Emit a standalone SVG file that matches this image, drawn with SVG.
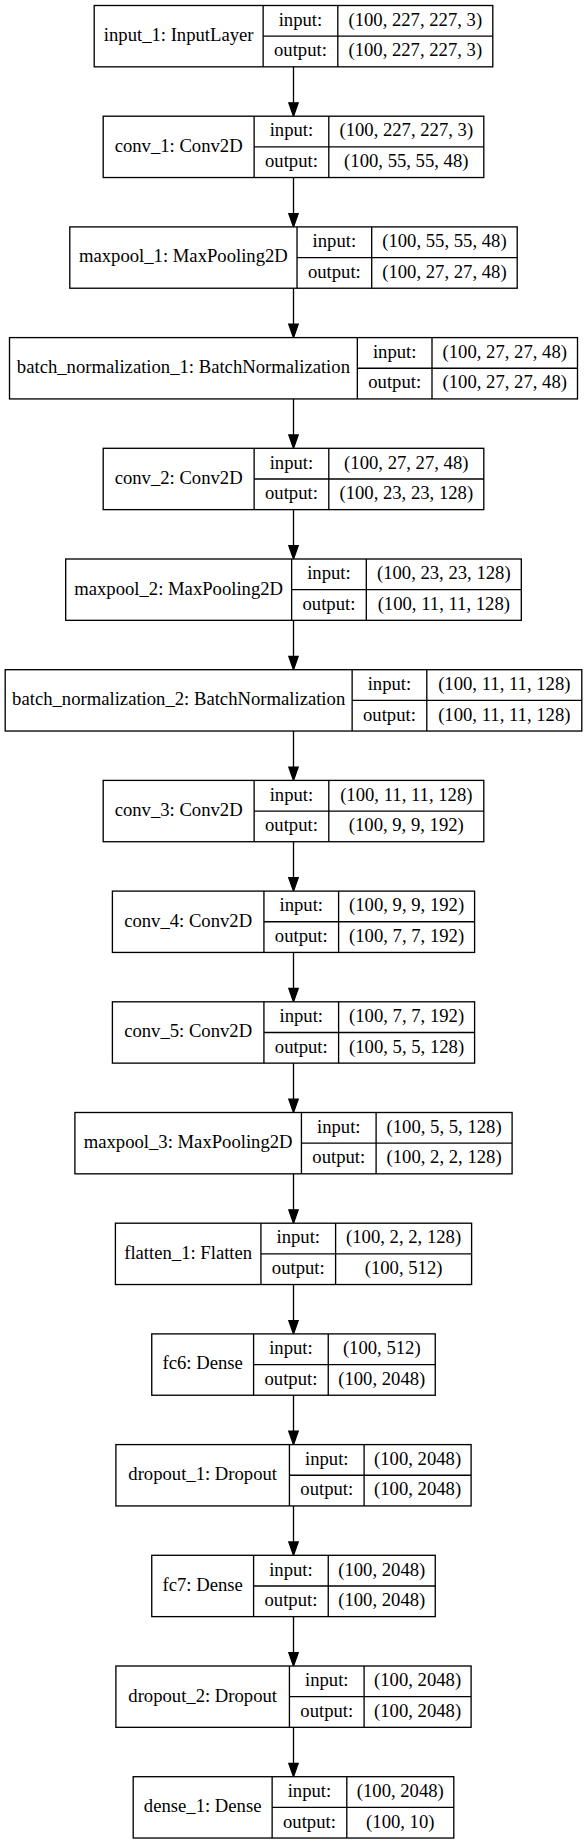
<svg xmlns="http://www.w3.org/2000/svg" width="587" height="1844" viewBox="0 0 587 1844">
<style>
.box{fill:#fff;stroke:#000;stroke-width:1.33}
.sep{stroke:#000;stroke-width:1.33}
.edge{stroke:#000;stroke-width:1.33;fill:none}
text{font-family:"Liberation Serif","Times New Roman",serif;font-size:18.67px;text-anchor:middle;fill:#000}
</style>
<defs>
<marker id="arr" markerUnits="userSpaceOnUse" markerWidth="15" markerHeight="11" viewBox="-1 -1 15 11" refX="0" refY="4.67" orient="auto">
<path d="M0,0 L13.33,4.67 L0,9.33 Z" fill="#000" stroke="#000" stroke-width="1.33"/>
</marker>
</defs>
<rect x="0" y="0" width="587" height="1844" fill="#fff"/>
<g id="connectors">
<line class="edge" x1="293.5" y1="66.83" x2="293.5" y2="102.87" marker-end="url(#arr)"/>
<line class="edge" x1="293.5" y1="177.53" x2="293.5" y2="213.57" marker-end="url(#arr)"/>
<line class="edge" x1="293.5" y1="288.23" x2="293.5" y2="324.27" marker-end="url(#arr)"/>
<line class="edge" x1="293.5" y1="398.93" x2="293.5" y2="434.97" marker-end="url(#arr)"/>
<line class="edge" x1="293.5" y1="509.63" x2="293.5" y2="545.67" marker-end="url(#arr)"/>
<line class="edge" x1="293.5" y1="620.33" x2="293.5" y2="656.37" marker-end="url(#arr)"/>
<line class="edge" x1="293.5" y1="731.03" x2="293.5" y2="767.07" marker-end="url(#arr)"/>
<line class="edge" x1="293.5" y1="841.73" x2="293.5" y2="877.77" marker-end="url(#arr)"/>
<line class="edge" x1="293.5" y1="952.43" x2="293.5" y2="988.47" marker-end="url(#arr)"/>
<line class="edge" x1="293.5" y1="1063.13" x2="293.5" y2="1099.17" marker-end="url(#arr)"/>
<line class="edge" x1="293.5" y1="1173.83" x2="293.5" y2="1209.87" marker-end="url(#arr)"/>
<line class="edge" x1="293.5" y1="1284.53" x2="293.5" y2="1320.57" marker-end="url(#arr)"/>
<line class="edge" x1="293.5" y1="1395.23" x2="293.5" y2="1431.27" marker-end="url(#arr)"/>
<line class="edge" x1="293.5" y1="1505.93" x2="293.5" y2="1541.97" marker-end="url(#arr)"/>
<line class="edge" x1="293.5" y1="1616.63" x2="293.5" y2="1652.67" marker-end="url(#arr)"/>
<line class="edge" x1="293.5" y1="1727.33" x2="293.5" y2="1763.37" marker-end="url(#arr)"/>
</g>

<g id="input_1" transform="translate(0,5.5)">
<rect class="box" x="94.2" y="0" width="398.6" height="61.33"/>
<line class="sep" x1="263.13" y1="0" x2="263.13" y2="61.33"/>
<line class="sep" x1="337.8" y1="0" x2="337.8" y2="61.33"/>
<line class="sep" x1="263.13" y1="30.67" x2="492.8" y2="30.67"/>
<text x="178.67" y="35.6">input_1: InputLayer</text>
<text x="300.47" y="20.3">input:</text>
<text x="300.47" y="50.9">output:</text>
<text x="415.3" y="20.3">(100, 227, 227, 3)</text>
<text x="415.3" y="50.9">(100, 227, 227, 3)</text>
</g>

<g id="conv_1" transform="translate(0,116.2)">
<rect class="box" x="103.2" y="0" width="380.6" height="61.33"/>
<line class="sep" x1="254.13" y1="0" x2="254.13" y2="61.33"/>
<line class="sep" x1="328.8" y1="0" x2="328.8" y2="61.33"/>
<line class="sep" x1="254.13" y1="30.67" x2="483.8" y2="30.67"/>
<text x="178.67" y="35.6">conv_1: Conv2D</text>
<text x="291.47" y="20.3">input:</text>
<text x="291.47" y="50.9">output:</text>
<text x="406.3" y="20.3">(100, 227, 227, 3)</text>
<text x="406.3" y="50.9">(100, 55, 55, 48)</text>
</g>

<g id="maxpool_1" transform="translate(0,226.9)">
<rect class="box" x="69.8" y="0" width="447.4" height="61.33"/>
<line class="sep" x1="297.03" y1="0" x2="297.03" y2="61.33"/>
<line class="sep" x1="371.7" y1="0" x2="371.7" y2="61.33"/>
<line class="sep" x1="297.03" y1="30.67" x2="517.2" y2="30.67"/>
<text x="183.42" y="35.6">maxpool_1: MaxPooling2D</text>
<text x="334.37" y="20.3">input:</text>
<text x="334.37" y="50.9">output:</text>
<text x="444.45" y="20.3">(100, 55, 55, 48)</text>
<text x="444.45" y="50.9">(100, 27, 27, 48)</text>
</g>

<g id="batch_normalization_1" transform="translate(0,337.6)">
<rect class="box" x="9.5" y="0" width="568" height="61.33"/>
<line class="sep" x1="357.33" y1="0" x2="357.33" y2="61.33"/>
<line class="sep" x1="432" y1="0" x2="432" y2="61.33"/>
<line class="sep" x1="357.33" y1="30.67" x2="577.5" y2="30.67"/>
<text x="183.42" y="35.6">batch_normalization_1: BatchNormalization</text>
<text x="394.67" y="20.3">input:</text>
<text x="394.67" y="50.9">output:</text>
<text x="504.75" y="20.3">(100, 27, 27, 48)</text>
<text x="504.75" y="50.9">(100, 27, 27, 48)</text>
</g>

<g id="conv_2" transform="translate(0,448.3)">
<rect class="box" x="103.2" y="0" width="380.6" height="61.33"/>
<line class="sep" x1="254.13" y1="0" x2="254.13" y2="61.33"/>
<line class="sep" x1="328.8" y1="0" x2="328.8" y2="61.33"/>
<line class="sep" x1="254.13" y1="30.67" x2="483.8" y2="30.67"/>
<text x="178.67" y="35.6">conv_2: Conv2D</text>
<text x="291.47" y="20.3">input:</text>
<text x="291.47" y="50.9">output:</text>
<text x="406.3" y="20.3">(100, 27, 27, 48)</text>
<text x="406.3" y="50.9">(100, 23, 23, 128)</text>
</g>

<g id="maxpool_2" transform="translate(0,559)">
<rect class="box" x="65.7" y="0" width="455.6" height="61.33"/>
<line class="sep" x1="291.63" y1="0" x2="291.63" y2="61.33"/>
<line class="sep" x1="366.3" y1="0" x2="366.3" y2="61.33"/>
<line class="sep" x1="291.63" y1="30.67" x2="521.3" y2="30.67"/>
<text x="178.67" y="35.6">maxpool_2: MaxPooling2D</text>
<text x="328.97" y="20.3">input:</text>
<text x="328.97" y="50.9">output:</text>
<text x="443.8" y="20.3">(100, 23, 23, 128)</text>
<text x="443.8" y="50.9">(100, 11, 11, 128)</text>
</g>

<g id="batch_normalization_2" transform="translate(0,669.7)">
<rect class="box" x="5.2" y="0" width="576.6" height="61.33"/>
<line class="sep" x1="352.13" y1="0" x2="352.13" y2="61.33"/>
<line class="sep" x1="426.8" y1="0" x2="426.8" y2="61.33"/>
<line class="sep" x1="352.13" y1="30.67" x2="581.8" y2="30.67"/>
<text x="178.67" y="35.6">batch_normalization_2: BatchNormalization</text>
<text x="389.47" y="20.3">input:</text>
<text x="389.47" y="50.9">output:</text>
<text x="504.3" y="20.3">(100, 11, 11, 128)</text>
<text x="504.3" y="50.9">(100, 11, 11, 128)</text>
</g>

<g id="conv_3" transform="translate(0,780.4)">
<rect class="box" x="103.2" y="0" width="380.6" height="61.33"/>
<line class="sep" x1="254.13" y1="0" x2="254.13" y2="61.33"/>
<line class="sep" x1="328.8" y1="0" x2="328.8" y2="61.33"/>
<line class="sep" x1="254.13" y1="30.67" x2="483.8" y2="30.67"/>
<text x="178.67" y="35.6">conv_3: Conv2D</text>
<text x="291.47" y="20.3">input:</text>
<text x="291.47" y="50.9">output:</text>
<text x="406.3" y="20.3">(100, 11, 11, 128)</text>
<text x="406.3" y="50.9">(100, 9, 9, 192)</text>
</g>

<g id="conv_4" transform="translate(0,891.1)">
<rect class="box" x="112.4" y="0" width="362.2" height="61.33"/>
<line class="sep" x1="263.93" y1="0" x2="263.93" y2="61.33"/>
<line class="sep" x1="338.6" y1="0" x2="338.6" y2="61.33"/>
<line class="sep" x1="263.93" y1="30.67" x2="474.6" y2="30.67"/>
<text x="188.17" y="35.6">conv_4: Conv2D</text>
<text x="301.27" y="20.3">input:</text>
<text x="301.27" y="50.9">output:</text>
<text x="406.6" y="20.3">(100, 9, 9, 192)</text>
<text x="406.6" y="50.9">(100, 7, 7, 192)</text>
</g>

<g id="conv_5" transform="translate(0,1001.8)">
<rect class="box" x="112.4" y="0" width="362.2" height="61.33"/>
<line class="sep" x1="263.93" y1="0" x2="263.93" y2="61.33"/>
<line class="sep" x1="338.6" y1="0" x2="338.6" y2="61.33"/>
<line class="sep" x1="263.93" y1="30.67" x2="474.6" y2="30.67"/>
<text x="188.17" y="35.6">conv_5: Conv2D</text>
<text x="301.27" y="20.3">input:</text>
<text x="301.27" y="50.9">output:</text>
<text x="406.6" y="20.3">(100, 7, 7, 192)</text>
<text x="406.6" y="50.9">(100, 5, 5, 128)</text>
</g>

<g id="maxpool_3" transform="translate(0,1112.5)">
<rect class="box" x="74.9" y="0" width="437.2" height="61.33"/>
<line class="sep" x1="301.43" y1="0" x2="301.43" y2="61.33"/>
<line class="sep" x1="376.1" y1="0" x2="376.1" y2="61.33"/>
<line class="sep" x1="301.43" y1="30.67" x2="512.1" y2="30.67"/>
<text x="188.17" y="35.6">maxpool_3: MaxPooling2D</text>
<text x="338.77" y="20.3">input:</text>
<text x="338.77" y="50.9">output:</text>
<text x="444.1" y="20.3">(100, 5, 5, 128)</text>
<text x="444.1" y="50.9">(100, 2, 2, 128)</text>
</g>

<g id="flatten_1" transform="translate(0,1223.2)">
<rect class="box" x="115.4" y="0" width="356.2" height="61.33"/>
<line class="sep" x1="260.93" y1="0" x2="260.93" y2="61.33"/>
<line class="sep" x1="335.6" y1="0" x2="335.6" y2="61.33"/>
<line class="sep" x1="260.93" y1="30.67" x2="471.6" y2="30.67"/>
<text x="188.17" y="35.6">flatten_1: Flatten</text>
<text x="298.27" y="20.3">input:</text>
<text x="298.27" y="50.9">output:</text>
<text x="403.6" y="20.3">(100, 2, 2, 128)</text>
<text x="403.6" y="50.9">(100, 512)</text>
</g>

<g id="fc6" transform="translate(0,1333.9)">
<rect class="box" x="151.75" y="0" width="283.5" height="61.33"/>
<line class="sep" x1="253.58" y1="0" x2="253.58" y2="61.33"/>
<line class="sep" x1="328.25" y1="0" x2="328.25" y2="61.33"/>
<line class="sep" x1="253.58" y1="30.67" x2="435.25" y2="30.67"/>
<text x="202.67" y="35.6">fc6: Dense</text>
<text x="290.92" y="20.3">input:</text>
<text x="290.92" y="50.9">output:</text>
<text x="381.75" y="20.3">(100, 512)</text>
<text x="381.75" y="50.9">(100, 2048)</text>
</g>

<g id="dropout_1" transform="translate(0,1444.6)">
<rect class="box" x="115.9" y="0" width="355.2" height="61.33"/>
<line class="sep" x1="289.43" y1="0" x2="289.43" y2="61.33"/>
<line class="sep" x1="364.1" y1="0" x2="364.1" y2="61.33"/>
<line class="sep" x1="289.43" y1="30.67" x2="471.1" y2="30.67"/>
<text x="202.67" y="35.6">dropout_1: Dropout</text>
<text x="326.77" y="20.3">input:</text>
<text x="326.77" y="50.9">output:</text>
<text x="417.6" y="20.3">(100, 2048)</text>
<text x="417.6" y="50.9">(100, 2048)</text>
</g>

<g id="fc7" transform="translate(0,1555.3)">
<rect class="box" x="151.75" y="0" width="283.5" height="61.33"/>
<line class="sep" x1="253.58" y1="0" x2="253.58" y2="61.33"/>
<line class="sep" x1="328.25" y1="0" x2="328.25" y2="61.33"/>
<line class="sep" x1="253.58" y1="30.67" x2="435.25" y2="30.67"/>
<text x="202.67" y="35.6">fc7: Dense</text>
<text x="290.92" y="20.3">input:</text>
<text x="290.92" y="50.9">output:</text>
<text x="381.75" y="20.3">(100, 2048)</text>
<text x="381.75" y="50.9">(100, 2048)</text>
</g>

<g id="dropout_2" transform="translate(0,1666)">
<rect class="box" x="115.9" y="0" width="355.2" height="61.33"/>
<line class="sep" x1="289.43" y1="0" x2="289.43" y2="61.33"/>
<line class="sep" x1="364.1" y1="0" x2="364.1" y2="61.33"/>
<line class="sep" x1="289.43" y1="30.67" x2="471.1" y2="30.67"/>
<text x="202.67" y="35.6">dropout_2: Dropout</text>
<text x="326.77" y="20.3">input:</text>
<text x="326.77" y="50.9">output:</text>
<text x="417.6" y="20.3">(100, 2048)</text>
<text x="417.6" y="50.9">(100, 2048)</text>
</g>

<g id="dense_1" transform="translate(0,1776.7)">
<rect class="box" x="133.2" y="0" width="320.6" height="61.33"/>
<line class="sep" x1="272.13" y1="0" x2="272.13" y2="61.33"/>
<line class="sep" x1="346.8" y1="0" x2="346.8" y2="61.33"/>
<line class="sep" x1="272.13" y1="30.67" x2="453.8" y2="30.67"/>
<text x="202.67" y="35.6">dense_1: Dense</text>
<text x="309.47" y="20.3">input:</text>
<text x="309.47" y="50.9">output:</text>
<text x="400.3" y="20.3">(100, 2048)</text>
<text x="400.3" y="50.9">(100, 10)</text>
</g>
</svg>
